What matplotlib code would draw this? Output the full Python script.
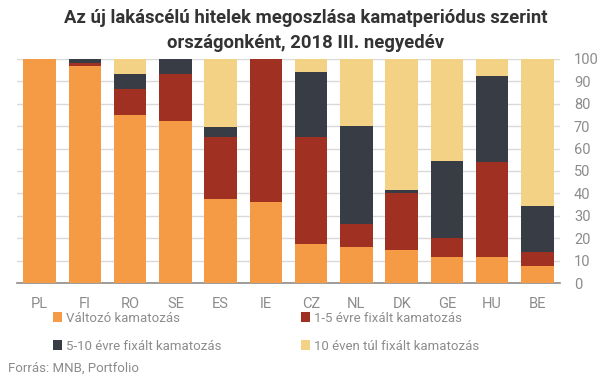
import matplotlib
matplotlib.use("Agg")
import matplotlib.pyplot as plt
import numpy as np
from matplotlib.patches import Patch

plt.rcParams['font.family'] = ['Roboto', 'DejaVu Sans']

countries = ["PL", "FI", "RO", "SE", "ES", "IE", "CZ", "NL", "DK", "GE", "HU", "BE"]
series_names = ["Változó kamatozás", "1-5 évre fixált kamatozás",
                "5-10 évre fixált kamatozás", "10 éven túl fixált kamatozás"]
valtozo = [100, 96.7, 75.0, 72.3, 37.5, 36.2, 17.5, 16.2, 14.8, 11.7, 11.7, 7.7]
fix_1_5 = [0, 1.4, 11.5, 20.9, 27.6, 63.8, 47.6, 10.4, 25.3, 8.5, 42.3, 6.2]
fix_5_10 = [0, 1.9, 6.7, 6.8, 4.5, 0, 29.0, 43.4, 1.4, 34.3, 38.3, 20.5]
fix_10 = [0, 0, 6.8, 0, 30.4, 0, 5.9, 30.0, 58.5, 45.5, 7.7, 65.6]
yticks = [0, 10, 20, 30, 40, 50, 60, 70, 80, 90, 100]

colors = ["#F59B45", "#A03122", "#383C45", "#F3D185"]
grey = "#8C8C8C"

fig = plt.figure(figsize=(6.05, 3.79), dpi=100)
W, H = 605, 379
ax = fig.add_axes([17 / W, 1 - 283.3 / H, (560 - 17) / W, (283.3 - 58.7) / H])

x = np.arange(len(countries))
bottom = np.zeros(len(countries))
for vals, col, name in zip([valtozo, fix_1_5, fix_5_10, fix_10], colors, series_names):
    v = np.array(vals, dtype=float)
    ax.bar(x, v, bottom=bottom, width=0.72, color=col, label=name, zorder=3)
    bottom += v

ax.set_xlim(-0.5, len(countries) - 0.5)
ax.set_ylim(0, 100)
ax.set_yticks(yticks)
ax.yaxis.tick_right()
ax.tick_params(axis='y', length=0, pad=10, labelsize=10.5, labelcolor=grey)
ax.tick_params(axis='x', length=0, pad=10, labelsize=10.5, labelcolor=grey)
ax.set_xticks(x)
ax.set_xticklabels(countries)
for lab in ax.get_yticklabels():
    lab.set_horizontalalignment('left')
ax.grid(axis='y', color="#D9D9D9", linewidth=1, zorder=0)
for s in ['top', 'left', 'right']:
    ax.spines[s].set_visible(False)
ax.spines['bottom'].set_color("#8C8C8C")
ax.spines['bottom'].set_linewidth(1.2)

fig.text(0.505, 1 - 30.5 / H, "Az új lakáscélú hitelek megoszlása kamatperiódus szerint\nországonként, 2018 III. negyedév",
         ha='center', va='center', fontsize=13.3, fontweight='bold', color="#333333", linespacing=1.5)

order = [0, 2, 1, 3]
handles = [Patch(facecolor=colors[i], edgecolor='none') for i in order]
labels = [series_names[i] for i in order]
leg = fig.legend(handles, labels, ncol=2, loc='upper left',
                 bbox_to_anchor=(53 / W, 1 - 311.5 / H), frameon=False,
                 fontsize=9.5, handlelength=0.7, handleheight=0.7, handletextpad=0.3,
                 columnspacing=6.0, labelspacing=1.15, borderpad=0, borderaxespad=0)
for t in leg.get_texts():
    t.set_color(grey)

fig.text(8 / W, 1 - 368 / H, "Forrás: MNB, Portfolio", ha='left', va='center', fontsize=9.5, color=grey)

fig.savefig("out.png", dpi=100)
